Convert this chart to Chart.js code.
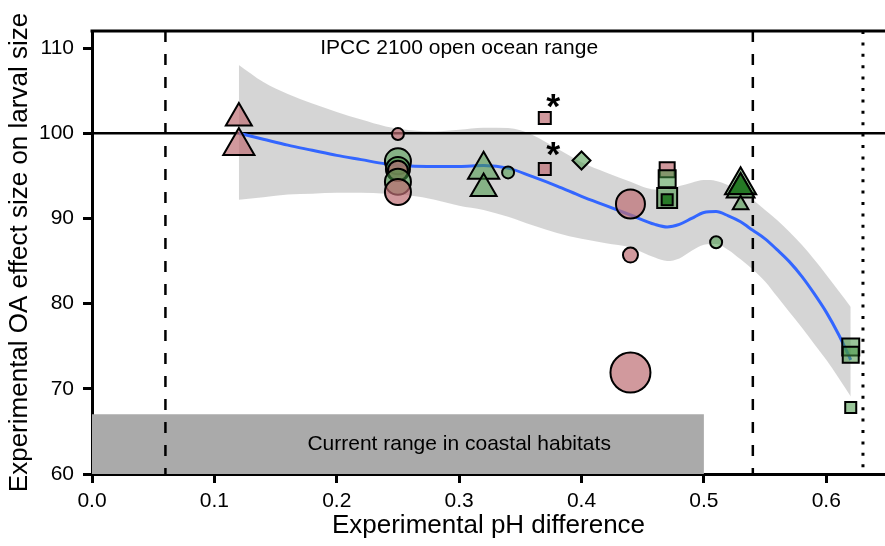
<!DOCTYPE html>
<html>
<head>
<meta charset="utf-8">
<script src="https://cdn.jsdelivr.net/npm/chart.js@4.4.0/dist/chart.umd.min.js"></script>
<style>
  html, body { margin: 0; padding: 0; background: #fff; }
  #wrap { width: 885px; height: 546px; }
</style>
</head>
<body>
<div id="wrap"><canvas id="chart" width="885" height="546"></canvas></div>
<script>
// Axis ticks
const xTicks = [0, 0.1, 0.2, 0.3, 0.4, 0.5, 0.6];
const xTickLabels = ['0.0', '0.1', '0.2', '0.3', '0.4', '0.5', '0.6'];
const yTicks = [60, 70, 80, 90, 100, 110];

// Observations: pH difference, effect size, marker shape, species group, marker size
const ptX = [0.12, 0.12, 0.25, 0.25, 0.25, 0.25, 0.25, 0.25, 0.32, 0.32, 0.34, 0.37, 0.37, 0.40,
             0.44, 0.44, 0.44, 0.47, 0.47, 0.47, 0.47, 0.51, 0.53, 0.53, 0.53, 0.53, 0.62, 0.62, 0.62];
const ptY = [101.8, 98.5, 99.9, 96.7, 95.8, 95.6, 94.3, 93.1, 95.7, 93.5, 95.4, 101.8, 95.8, 96.8,
             91.7, 85.7, 71.9, 95.7, 94.65, 92.4, 92.2, 87.2, 93.9, 93.4, 93.7, 91.6, 74.9, 74.0, 67.8];
const ptShape = ['triangle', 'triangle', 'circle', 'circle', 'circle', 'circle', 'circle', 'circle',
                 'triangle', 'triangle', 'circle', 'rect', 'rect', 'rectRot',
                 'circle', 'circle', 'circle', 'rect', 'rect', 'rect', 'rect', 'circle',
                 'triangle', 'triangle', 'triangle', 'triangle', 'rect', 'rect', 'rect'];
const ptGroup = ['pink', 'pink', 'pink', 'green', 'green', 'pink', 'green', 'pink', 'green', 'green',
                 'green', 'pink', 'pink', 'green', 'pink', 'pink', 'pink', 'pink', 'green', 'green',
                 'dark', 'green', 'green', 'green', 'dark', 'green', 'green', 'green', 'green'];
const ptSize = [15, 18, 6, 13, 12, 10, 13, 13, 18, 15, 6, 8.5, 8.5, 9,
                14.5, 7.5, 20, 10.6, 12, 14.1, 7.8, 6, 18, 16, 14, 9, 12, 11.3, 7.8];

// Significance stars
const starX = [0.377, 0.377];
const starY = [103.8, 98.1];

// Smoothed fit with confidence band
const fitX = [0.12, 0.14, 0.16, 0.18, 0.20, 0.22, 0.24, 0.26, 0.28, 0.30, 0.32, 0.34, 0.36, 0.38,
              0.40, 0.42, 0.44, 0.46, 0.47, 0.48, 0.49, 0.50, 0.51, 0.52, 0.53, 0.54, 0.55, 0.56,
              0.57, 0.58, 0.59, 0.60, 0.61, 0.62];
const fitMid = [100.0, 99.3, 98.6, 98.0, 97.4, 96.9, 96.4, 96.15, 96.1, 96.1, 96.2, 95.9, 94.9, 93.8,
                92.6, 91.5, 90.4, 89.3, 89.0, 89.3, 90.0, 90.7, 90.8, 90.3, 89.6, 88.6, 87.6, 86.3,
                84.9, 83.2, 81.2, 79.0, 76.4, 73.4];
const fitUpper = [108.0, 106.0, 104.6, 103.5, 102.5, 101.6, 100.8, 100.35, 100.2, 100.4, 100.65, 100.6,
                  99.8, 98.2, 96.6, 95.4, 94.3, 93.4, 93.4, 93.8, 94.2, 94.5, 94.4, 93.9, 93.3, 92.2,
                  91.0, 89.8, 88.4, 86.9, 85.2, 83.4, 81.5, 79.6];
const fitLower = [92.2, 92.5, 92.8, 92.9, 93.0, 93.0, 92.9, 92.7, 92.2, 91.5, 91.0, 90.2, 89.2, 88.3,
                  87.6, 87.1, 86.6, 85.4, 85.0, 85.3, 86.2, 86.9, 87.0, 86.3, 85.2, 84.0, 82.6, 80.8,
                  79.0, 77.2, 75.3, 73.4, 71.3, 69.1];

// Reference levels
const referenceLevel = 100;
const ipccRange = [0.06, 0.54];
const extremeLimit = 0.63;
const coastalRange = [0, 0.5];
const coastalTop = 67;
const xMax = 0.648;
const yMin = 60;
const yMax = 112;

const ipccLabel = 'IPCC 2100 open ocean range';
const ipccLabelPos = [0.30, 110];
const coastalLabel = 'Current range in coastal habitats';
const coastalLabelPos = [0.30, 63.5];

const FONT = '"Liberation Sans", Arial, Helvetica, sans-serif';
const groupFill = {
    pink: 'rgba(190, 110, 115, 0.7)',
    green: 'rgba(70, 150, 70, 0.55)',
    dark: 'rgba(30, 115, 30, 0.9)'
};

const toXY = (xs, ys) => xs.map((x, i) => ({ x, y: ys[i] }));

function vline(xv, dash, width, order) {
    return {
        data: [{ x: xv, y: yMax }, { x: xv, y: yMin }],
        showLine: true, borderColor: '#000', borderWidth: width, borderDash: dash,
        pointRadius: 0, fill: false, order, borderCapStyle: 'butt'
    };
}

// Box top, text labels and stars
const frame = {
    id: 'frame',
    afterDatasetsDraw(chart) {
        const { ctx, chartArea: a, scales: { x, y } } = chart;
        ctx.save();
        ctx.strokeStyle = '#000';
        ctx.lineWidth = 3;
        ctx.beginPath();
        ctx.moveTo(a.left - 1.5, a.top);
        ctx.lineTo(a.right, a.top);
        ctx.stroke();

        ctx.fillStyle = '#000';
        ctx.textAlign = 'center';
        ctx.textBaseline = 'middle';
        ctx.font = '21px ' + FONT;
        ctx.fillText(ipccLabel, x.getPixelForValue(ipccLabelPos[0]), y.getPixelForValue(ipccLabelPos[1]));
        ctx.fillText(coastalLabel, x.getPixelForValue(coastalLabelPos[0]), y.getPixelForValue(coastalLabelPos[1]));

        // asterisks, scaled to ~14px glyph width and centred on their value
        ctx.font = 'bold 100px ' + FONT;
        const m100 = ctx.measureText('*');
        const gw = m100.actualBoundingBoxLeft + m100.actualBoundingBoxRight;
        const size = 14 / gw * 100;
        ctx.font = 'bold ' + size + 'px ' + FONT;
        ctx.textBaseline = 'alphabetic';
        const m = ctx.measureText('*');
        starX.forEach((sx, i) => {
            const px = x.getPixelForValue(sx);
            const py = y.getPixelForValue(starY[i]);
            ctx.fillText('*', px + (m.actualBoundingBoxLeft - m.actualBoundingBoxRight) / 2,
                py + (m.actualBoundingBoxAscent - m.actualBoundingBoxDescent) / 2);
        });
        ctx.restore();
    }
};

const datasets = [
    {   // observations
        data: toXY(ptX, ptY),
        pointStyle: ptShape,
        pointRadius: ptSize,
        pointBackgroundColor: ptGroup.map(g => groupFill[g]),
        pointBorderColor: '#000',
        pointBorderWidth: 2,
        showLine: false,
        order: 0
    },
    {   // smoothed fit
        data: toXY(fitX, fitMid),
        showLine: true, borderColor: '#3366ff', borderWidth: 3,
        cubicInterpolationMode: 'monotone', pointRadius: 0, fill: false, order: 1
    },
    {   // horizontal reference
        data: [{ x: 0, y: referenceLevel }, { x: xMax, y: referenceLevel }],
        showLine: true, borderColor: '#000', borderWidth: 2.5, pointRadius: 0, fill: false, order: 2
    },
    vline(ipccRange[0], [11, 12], 2.5, 2),
    vline(ipccRange[1], [11, 12], 2.5, 2),
    vline(extremeLimit, [3, 8.4], 3, 2),
    {   // confidence band upper edge, filled down to lower edge
        data: toXY(fitX, fitUpper),
        showLine: true, borderWidth: 0, borderColor: 'rgba(0,0,0,0)',
        backgroundColor: 'rgba(150, 150, 150, 0.4)',
        cubicInterpolationMode: 'monotone', pointRadius: 0, fill: '+1', order: 3
    },
    {
        data: toXY(fitX, fitLower),
        showLine: true, borderWidth: 0, borderColor: 'rgba(0,0,0,0)',
        cubicInterpolationMode: 'monotone', pointRadius: 0, fill: false, order: 4
    },
    {   // coastal range box
        data: [{ x: coastalRange[0], y: coastalTop }, { x: coastalRange[1], y: coastalTop }],
        showLine: true, borderWidth: 0, borderColor: 'rgba(0,0,0,0)',
        backgroundColor: '#aaaaaa', pointRadius: 0,
        fill: { target: { value: yMin } }, order: 5
    }
];

const tickFont = { family: FONT, size: 21 };
const titleFont = { family: FONT, size: 26 };

new Chart(document.getElementById('chart'), {
    type: 'scatter',
    data: { datasets },
    options: {
        responsive: false,
        animation: false,
        events: [],
        layout: { autoPadding: false, padding: { top: 31, right: 0, left: 0, bottom: 0 } },
        plugins: { legend: { display: false }, tooltip: { enabled: false } },
        scales: {
            x: {
                type: 'linear', min: 0, max: xMax,
                afterBuildTicks: s => { s.ticks = xTicks.map(v => ({ value: v })); },
                afterFit: s => { s.height = 72; s.paddingLeft = 0; s.paddingRight = 0; },
                ticks: {
                    color: '#000', font: tickFont, padding: 6, maxRotation: 0,
                    callback: (v, i) => xTickLabels[i]
                },
                grid: { drawOnChartArea: false, drawTicks: true, tickLength: 9, tickWidth: 3, tickColor: '#000' },
                border: { display: true, color: '#000', width: 3 },
                title: { display: true, text: 'Experimental pH difference', color: '#000',
                         font: titleFont, padding: { top: 0, bottom: 5 } }
            },
            y: {
                type: 'linear', min: yMin, max: yMax,
                afterBuildTicks: s => { s.ticks = yTicks.map(v => ({ value: v })); },
                afterFit: s => { s.width = 92; s.paddingTop = 0; s.paddingBottom = 0; },
                ticks: { color: '#000', font: tickFont, padding: 9, callback: v => String(v) },
                grid: { drawOnChartArea: false, drawTicks: true, tickLength: 9, tickWidth: 3, tickColor: '#000' },
                border: { display: true, color: '#000', width: 3 },
                title: { display: true, text: 'Experimental OA effect size on larval size', color: '#000',
                         font: titleFont, padding: { top: 4, bottom: 0 } }
            }
        }
    },
    plugins: [frame]
});
</script>
</body>
</html>
